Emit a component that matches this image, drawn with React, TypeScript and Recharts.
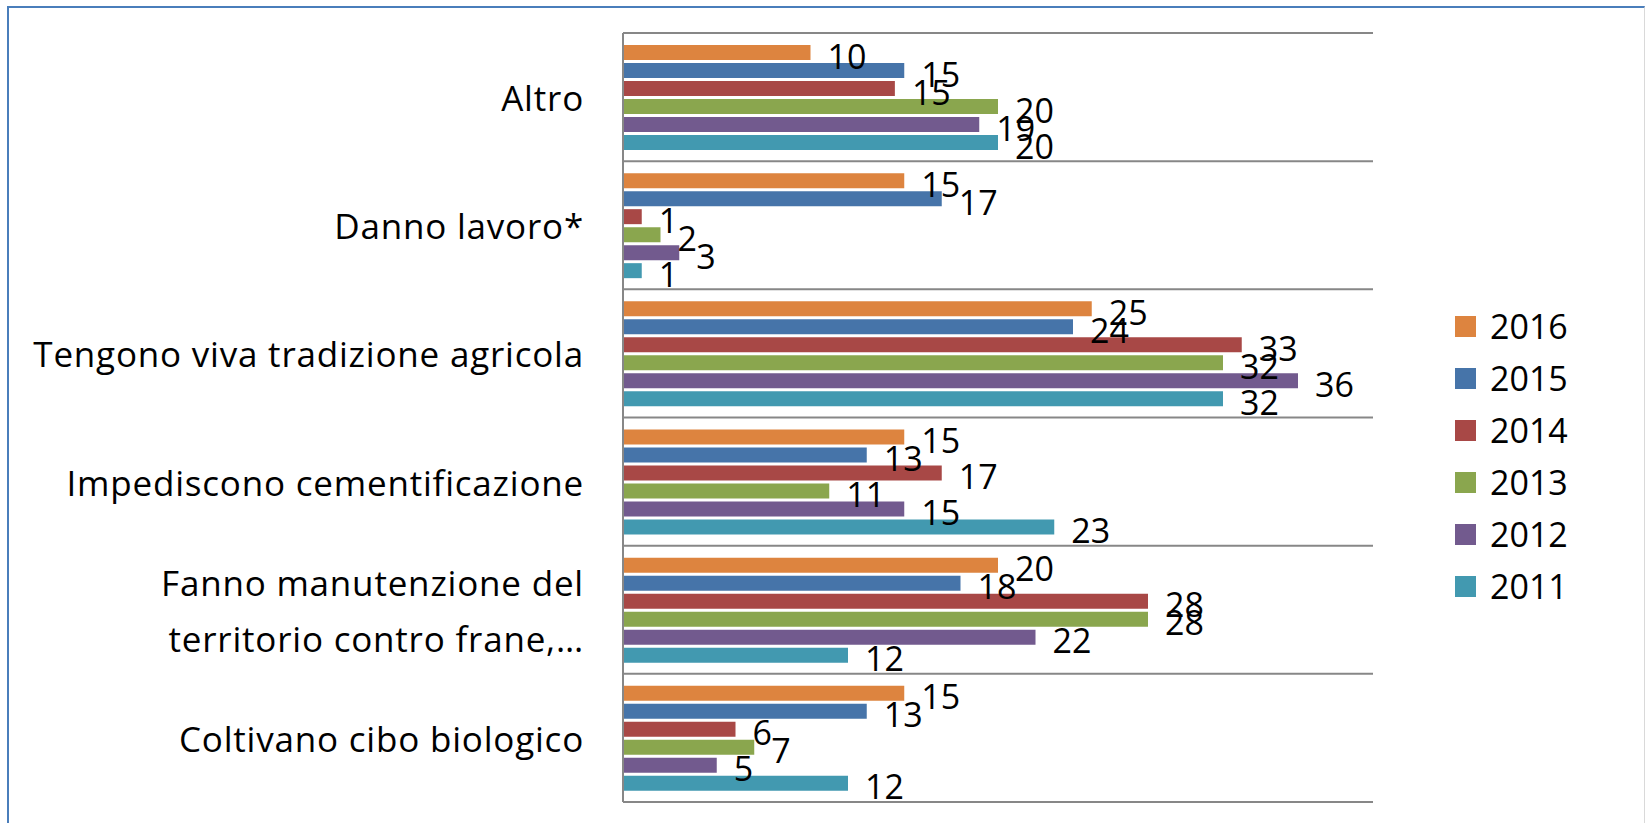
import React from "react";
import { BarChart, Bar, XAxis, YAxis, CartesianGrid, LabelList, Legend } from "recharts";

const categories = [
  "Altro",
  "Danno lavoro*",
  "Tengono viva tradizione agricola",
  "Impediscono cementificazione",
  "Fanno manutenzione del\nterritorio contro frane,…",
  "Coltivano cibo biologico",
];

const years = ["2016", "2015", "2014", "2013", "2012", "2011"];
const colors = ["#DD843F", "#4674A9", "#A84846", "#8AA64E", "#725A8E", "#4299B0"];

const v2016 = [10, 15, 25, 15, 20, 15];
const v2015 = [15, 17, 24, 13, 18, 13];
const v2014 = [14.5, 1, 33, 17, 28, 6];
const v2013 = [20, 2, 32, 11, 28, 7];
const v2012 = [19, 3, 36, 15, 22, 5];
const v2011 = [20, 1, 32, 23, 12, 12];

const seriesValues = [v2016, v2015, v2014, v2013, v2012, v2011];

const data = categories.map((name, i) => {
  const row: Record<string, string | number> = { name };
  years.forEach((y, j) => {
    row[y] = seriesValues[j][i];
  });
  return row;
});

const FONT = "'Open Sans', 'Noto Sans', sans-serif";
const FS = 34;

const CategoryTick = (props: any) => {
  const { x, y, payload } = props;
  const lines = String(payload.value).split("\n");
  const lh = 56;
  const startDy = -((lines.length - 1) * lh) / 2;
  return (
    <text
      x={x - 31}
      y={y}
      textAnchor="end"
      fontFamily={FONT}
      fontSize={35}
      letterSpacing={0.8}
      fill="#000"
      dominantBaseline="central"
    >
      {lines.map((l, i) => (
        <tspan key={i} x={x - 31} dy={i === 0 ? startDy : lh}>
          {l}
        </tspan>
      ))}
    </text>
  );
};

const ValueLabel = (props: any) => {
  const { x, y, width, height, value } = props;
  return (
    <text
      x={x + width + 17}
      y={y + height / 2 + 3}
      fontFamily={FONT}
      fontSize={FS}
      fill="#000"
      dominantBaseline="central"
    >
      {Math.round(Number(value))}
    </text>
  );
};

const LegendContent = (props: any) => {
  const { payload } = props;
  const items = [...(payload || [])].sort(
    (a: any, b: any) => years.indexOf(String(a.value)) - years.indexOf(String(b.value))
  );
  return (
    <div style={{ fontFamily: FONT, fontSize: FS }}>
      {items.map((p: any, i: number) => (
        <div key={i} style={{ display: "flex", alignItems: "center", height: 52 }}>
          <div style={{ width: 21, height: 21, background: p.color, marginRight: 14 }} />
          <span style={{ color: "#000", lineHeight: "52px" }}>{p.value}</span>
        </div>
      ))}
    </div>
  );
};

const gridGen = (props: any) => {
  const { offset } = props;
  const n = categories.length;
  const out: number[] = [];
  for (let i = 0; i <= n; i++) out.push(offset.top + (i * offset.height) / n);
  return out;
};

export default function App() {
  return (
    <div
      style={{
        position: "absolute",
        left: 0,
        top: 0,
        width: 1646,
        height: 823,
        background: "#fff",
        overflow: "hidden",
      }}
    >
      <div
        style={{
          position: "absolute",
          left: 7,
          top: 6,
          width: 1638,
          height: 900,
          borderTop: "2.5px solid #4A7EBB",
          borderLeft: "2.5px solid #4A7EBB",
          borderRight: "1px solid #D9D9D9",
          boxSizing: "border-box",
        }}
      />
      <div style={{ position: "absolute", left: 0, top: 0 }}>
        <BarChart
          width={1646}
          height={823}
          data={data}
          layout="vertical"
          margin={{ top: 33, right: 123, bottom: 21, left: 0 }}
          barGap={3}
          barSize={15}
        >
          <CartesianGrid
            vertical={false}
            stroke="#878787"
            strokeWidth={2}
            horizontalCoordinatesGenerator={gridGen}
          />
          <XAxis type="number" domain={[0, 40]} hide />
          <YAxis
            type="category"
            dataKey="name"
            width={623}
            axisLine={{ stroke: "#878787", strokeWidth: 2 }}
            tickLine={false}
            tick={<CategoryTick />}
            interval={0}
          />
          <Legend
            layout="vertical"
            verticalAlign="top"
            align="right"
            content={<LegendContent />}
            wrapperStyle={{ position: "absolute", left: 1455, top: 300, width: 150 }}
          />
          {years.map((y, j) => (
            <Bar key={y} dataKey={y} name={y} fill={colors[j]} isAnimationActive={false}>
              <LabelList dataKey={y} content={<ValueLabel />} />
            </Bar>
          ))}
        </BarChart>
      </div>
    </div>
  );
}
